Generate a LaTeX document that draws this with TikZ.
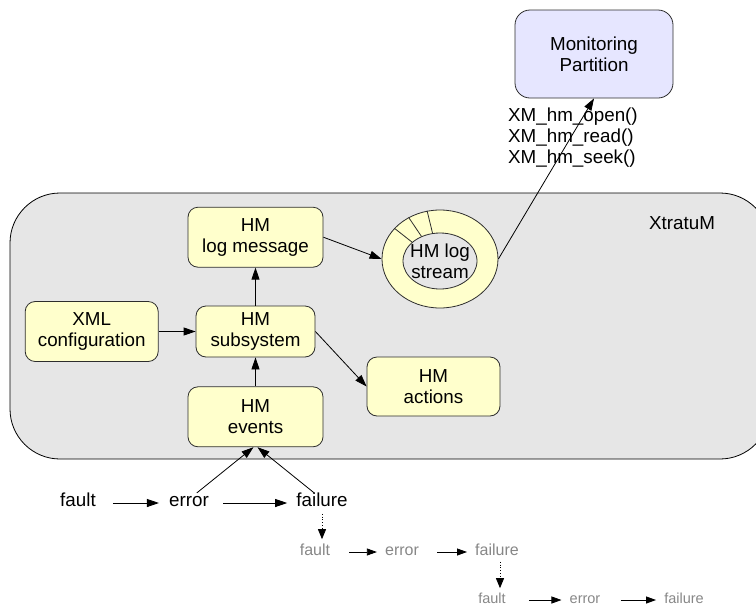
\documentclass[tikz,border=0pt]{standalone}
\usepackage{fontspec}
\setmainfont{Liberation Sans}
\usetikzlibrary{arrows.meta,positioning,shapes.geometric}
\definecolor{XMYellow}{RGB}{255,255,204}
\definecolor{XMLavender}{RGB}{230,230,255}
\definecolor{XMGrey}{RGB}{230,230,230}
\definecolor{XMText}{RGB}{135,135,135}
\definecolor{XMRule}{RGB}{45,45,45}
\newcommand{\hmfont}{\fontsize{18.8}{21}\selectfont}

\begin{document}
\begin{tikzpicture}[x=1pt,y=-1pt,
    hmbox/.style={draw=XMRule,fill=XMYellow,line width=0.8pt,rounded corners=10pt,align=center,inner sep=0pt,font=\hmfont},
    conn/.style={line width=0.8pt,-{Triangle[length=12pt,width=8pt]}},
    lightconn/.style={line width=0.8pt,-{Triangle[length=10pt,width=7pt]}},
    dotconn/.style={line width=0.8pt,dotted,-{Triangle[length=10pt,width=8pt]}},
    word/.style={inner sep=0pt,font=\hmfont},
    stageword/.style={inner sep=0pt,text height=0.72em,text depth=0pt,font=\hmfont},
    smallword/.style={stageword,text=XMText,font=\fontsize{16}{19}\selectfont},
    tinyword/.style={stageword,text=XMText,font=\fontsize{14.5}{17}\selectfont}
  ]
    \useasboundingbox (0,0) rectangle (756,606);
    \draw[fill=XMGrey,line width=0.8pt,rounded corners=50pt] (10,193) rectangle (770,459);
    \node[word] (xmlabel) at (682,223) {XtratuM};

    \node[hmbox,fill=XMLavender,rounded corners=15pt,minimum width=158pt,minimum height=88pt] (mon) at (594,54) {Monitoring\\Partition};
    \node[word,align=left,anchor=west] (calls) at (508,138) {XM\_hm\_open()\\XM\_hm\_read()\\XM\_hm\_seek()};

    \node[hmbox,minimum width=119pt,minimum height=51pt] (hmsub) at (255.5,331.5) {HM\\subsystem};
    \node[hmbox,minimum width=135pt,minimum height=60pt,above=38pt of hmsub] (logmsg) {HM\\log message};
    \node[hmbox,minimum width=135pt,minimum height=60pt,below=29pt of hmsub] (events) {HM\\events};
    \node[hmbox,minimum width=133pt,minimum height=60pt,left=37pt of hmsub] (xmlcfg) {XML\\configuration};
    \node[hmbox,minimum width=133pt,minimum height=59pt] (actions) at (433.5,386.5) {HM\\actions};

    \node[ellipse,draw=XMRule,fill=XMYellow,line width=0.8pt,minimum width=116pt,minimum height=98pt,inner sep=0pt] (ring) at (440,259) {};
    \node[ellipse,draw=XMRule,fill=XMGrey,line width=0.8pt,minimum width=74pt,minimum height=56pt,inner sep=0pt] (stream) at (440,261) {};
    \node[word,align=center] (streamtext) at (stream) {HM log\\stream};
    \foreach \a in {146,127,105}
      \draw[XMRule,line width=0.8pt] (ring.\a) -- (stream.\a);

    \draw[conn] (logmsg.east) -- (ring.west);
    \draw[conn] (ring.east) -- (mon.south);
    \draw[conn] (hmsub.north) -- (logmsg.south);
    \draw[conn] (xmlcfg.east) -- (hmsub.west);
    \draw[conn] (hmsub.east) -- (actions.west);
    \draw[conn] (events.north) -- (hmsub.south);

    \node[stageword] (fault) at (78,503) {fault};
    \node[stageword] (error) at (189,503) {error};
    \node[stageword] (failure) at (322,503) {failure};
    \draw[conn,shorten <=17pt,shorten >=10pt] (fault.east) -- (error.west);
    \draw[conn,shorten <=14pt,shorten >=9pt] (error.east) -- (failure.west);
    \draw[conn,shorten <=10pt] (error.north) -- ([xshift=-2pt]events.south);
    \draw[conn,shorten <=10pt] (failure.north) -- ([xshift=2pt]events.south);

    \node[smallword] (gfault) at (315,552) {fault};
    \node[smallword] (gerror) at (402,552) {error};
    \node[smallword] (gfailure) at (497,552) {failure};
    \draw[dotconn,shorten <=7pt,shorten >=9pt] (failure.south) -- (failure.south |- gfault.north);
    \draw[lightconn,shorten <=19pt,shorten >=8pt] (gfault.east) -- (gerror.west);
    \draw[lightconn,shorten <=18pt,shorten >=8pt] (gerror.east) -- (gfailure.west);

    \node[tinyword] (tfault) at (492,600) {fault};
    \node[tinyword] (terror) at (585,600) {error};
    \node[tinyword] (tfailure) at (684,600) {failure};
    \draw[dotconn,shorten <=6pt,shorten >=8pt] ([xshift=3pt]gfailure.south) -- ([xshift=3pt]gfailure.south |- tfault.north);
    \draw[lightconn,shorten <=23pt,shorten >=8pt] (tfault.east) -- (terror.west);
    \draw[lightconn,shorten <=20pt,shorten >=8pt] (terror.east) -- (tfailure.west);
  \end{tikzpicture}
\end{document}
